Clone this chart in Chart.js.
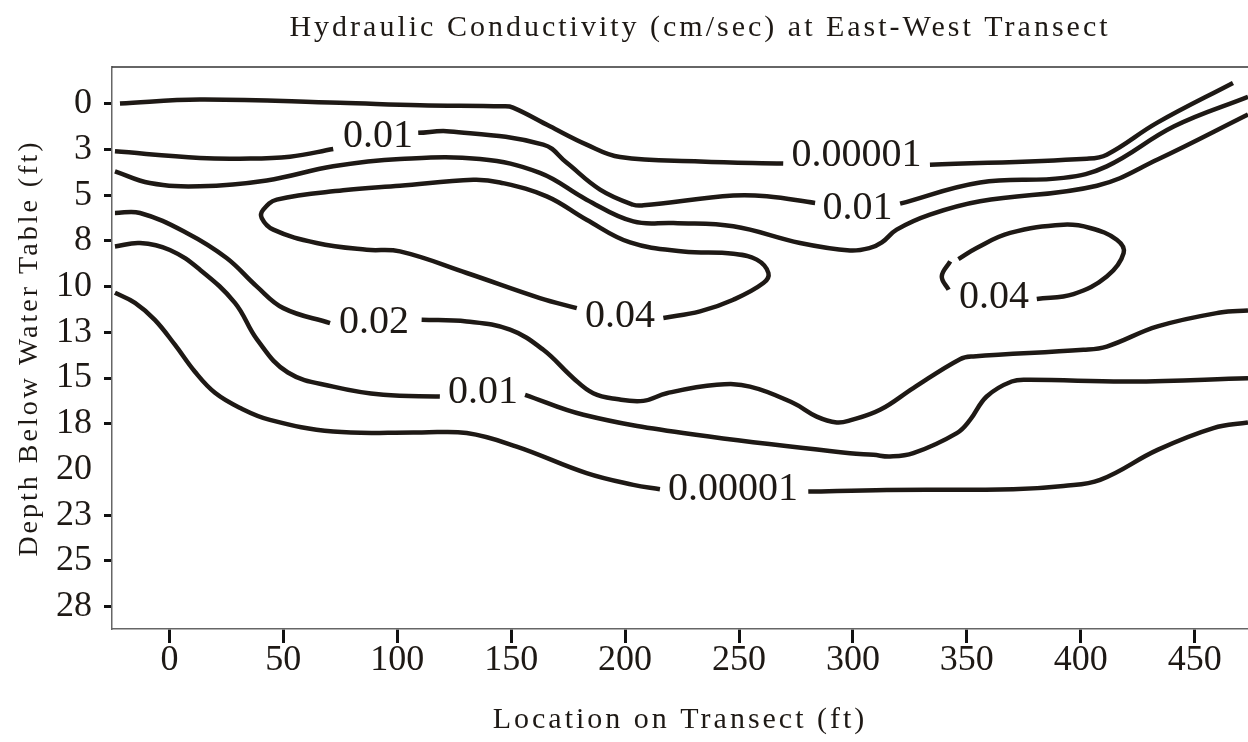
<!DOCTYPE html>
<html>
<head>
<meta charset="utf-8">
<title>Hydraulic Conductivity</title>
<script src="https://cdn.jsdelivr.net/npm/chart.js"></script>
<style>
  html, body { margin: 0; padding: 0; background: #fff; }
  #wrap { width: 1248px; height: 742px; }
</style>
</head>
<body>
<div id="wrap"><canvas id="myChart"></canvas></div>
<script>
// axis ticks
const xTicks = [0, 50, 100, 150, 200, 250, 300, 350, 400, 450];
const yTicks = [0, 2.5, 5, 7.5, 10, 12.5, 15, 17.5, 20, 22.5, 25, 27.5];
const yTickLabels = ['0', '3', '5', '8', '10', '13', '15', '18', '20', '23', '25', '28'];

// contour lines as [location (ft), depth (ft)], broken where a label sits
const upper00001a = [[-21.7,0],[13.4,-0.22],[74.8,-0.04],[110,0.09],[146.5,0.15],[150.8,0.22],[167,1.24],[183.1,2.24],[197.8,2.92],[232.9,3.16],[269.4,3.28]];
const upper00001b = [[333.8,3.34],[402.7,3.01],[411.4,2.79],[433.6,1.04],[466.8,-1.13]];
const upper001a = [[-23.9,2.61],[13.4,2.97],[30.9,3.01],[52.9,2.9],[71.9,2.48]];
const upper001b = [[109.2,1.6],[123.1,1.52],[164.1,2.24],[174.4,3.24],[189,4.7],[203.6,5.53],[208,5.56],[247.5,5.03],[262.2,5.07],[283.4,5.43]];
const upper001c = [[320.7,5.47],[355.8,4.31],[392.4,4.06],[411.4,3.43],[441,1.24],[473.4,-0.37]];
const unlabeled = [[-23.9,3.7],[-8.6,4.34],[13.4,4.52],[42.7,4.2],[71.9,3.43],[101.2,3.03],[136.3,3.03],[162.6,3.79],[183.1,5.25],[203.6,6.44],[221.2,6.53],[247.5,6.71],[276.8,7.62],[298.7,8.03],[307.5,7.89],[312.7,7.59],[319.2,6.89],[333.8,6.07],[355.8,5.34],[407.1,4.49],[433.7,3.06],[473.4,0.6]];
const left004 = [[178.8,11.18],[162.6,10.63],[130.5,9.26],[101.2,8.08],[86.6,7.99],[64.6,7.62],[45.6,6.89],[40.5,6.25],[41.2,5.8],[47.1,5.25],[76.3,4.74],[101.2,4.49],[133.4,4.16],[145.1,4.31],[165.6,5.07],[183.1,6.35],[202.2,7.59],[225.5,8.08],[247.5,8.21],[257.8,8.53],[262.9,9.26],[260.7,9.81],[247.5,10.72],[232.9,11.36],[216.8,11.72]];
const mid002a = [[-23.9,5.98],[-12.9,5.98],[7.6,7.07],[25.1,8.44],[38.3,9.99],[50,11.18],[70.5,12]];
const mid002b = [[110.7,11.82],[130.5,11.91],[149.5,12.36],[164.1,13.46],[177.3,15.01],[186,15.83],[196.3,16.15],[208,16.25],[218.3,15.83],[240.2,15.37],[254.8,15.47],[273.8,16.37],[284.1,17.11],[292.9,17.43],[298.7,17.32],[311.9,16.74],[326.5,15.55],[347,13.97],[352.8,13.82],[401.2,13.46],[411.4,13.28],[433.7,12.18],[461.2,11.42],[473.4,11.31]];
const lower001a = [[-23.9,7.81],[-12.9,7.62],[0.2,8.0],[13.4,9.08],[28.75,10.89],[38.5,12.9],[52,14.7],[71.9,15.47],[93.9,15.92],[118.7,16.01]];
const lower001b = [[156.1,15.92],[181.7,17.01],[225.5,18.01],[298.7,19.11],[309,19.2],[316.3,19.29],[326.5,19.11],[345.6,18.01],[351.4,17.29],[358.7,16.01],[369.7,15.19],[377.7,15.1],[421.7,15.19],[473.4,15.01]];
const lower00001a = [[-23.9,10.34],[-15.1,10.89],[-6.4,11.82],[2.4,13.18],[11.2,14.66],[20,15.81],[30.9,16.63],[44.1,17.29],[71.9,17.93],[110,17.98],[130.5,18.01],[152.4,18.75],[183.1,20.2],[203.6,20.84],[215.3,21.08]];
const lower00001b = [[280.4,21.21],[314.8,21.12],[370.4,21.08],[392.4,20.9],[408.5,20.57],[433.7,18.93],[458.2,17.74],[473.4,17.43]];
const right004a = [[380.7,10.68],[396.8,10.41],[411.4,9.45],[418.8,8.17],[415.8,7.44],[404.1,6.8],[392.4,6.62],[369,7.07],[354.3,7.89],[346.3,8.5]];
const right004b = [[342.7,8.63],[339,9.45],[342,10.18]];

// contour labels
const labelText = ['0.01', '0.00001', '0.01', '0.04', '0.02', '0.01', '0.00001', '0.04'];
const labelX = [91.5, 301.6, 302, 197.8, 89.8, 137.6, 247.4, 361.9];
const labelY = [1.81, 2.82, 5.74, 11.62, 11.95, 15.78, 21.09, 10.59];

const ink = '#1e1915';
const segments = [upper00001a, upper00001b, upper001a, upper001b, upper001c, unlabeled, left004,
  mid002a, mid002b, lower001a, lower001b, lower00001a, lower00001b, right004a, right004b];

const datasets = segments.map(function(seg) {
  return {
    data: seg.map(function(p) { return {x: p[0], y: p[1]}; }),
    showLine: true,
    borderColor: ink,
    borderWidth: 4.5,
    borderCapStyle: 'butt',
    pointRadius: 0,
    tension: 0.4,
    fill: false
  };
});

const serif = 'Liberation Serif';

// titles get wide letter spacing, everything drawn after the datasets does not
const contourText = {
  id: 'contourText',
  afterLayout(chart) {
    // the heading sits right of centre in the original
    if (chart.titleBlock) chart.titleBlock.left = 152;
  },
  beforeDraw(chart) { chart.ctx.letterSpacing = '3px'; },
  beforeDatasetsDraw(chart) { chart.ctx.letterSpacing = '0px'; },
  afterDatasetsDraw(chart) {
    const ctx = chart.ctx, xs = chart.scales.x, ys = chart.scales.y;
    ctx.save();
    ctx.font = '40px "' + serif + '"';
    ctx.fillStyle = ink;
    ctx.textAlign = 'center';
    ctx.textBaseline = 'middle';
    labelText.forEach(function(t, i) {
      ctx.fillText(t, xs.getPixelForValue(labelX[i]), ys.getPixelForValue(labelY[i]));
    });
    ctx.restore();
  },
  afterDraw(chart) {
    const ctx = chart.ctx, a = chart.chartArea;
    ctx.save();
    ctx.strokeStyle = '#333';
    ctx.lineWidth = 1.5;
    ctx.beginPath();
    ctx.moveTo(a.left, a.top);
    ctx.lineTo(a.right, a.top);
    ctx.stroke();
    ctx.restore();
  }
};

new Chart(document.getElementById('myChart'), {
  type: 'scatter',
  data: { datasets: datasets },
  plugins: [contourText],
  options: {
    responsive: true,
    maintainAspectRatio: false,
    animation: false,
    events: [],
    layout: { padding: 0 },
    plugins: {
      legend: { display: false },
      tooltip: { enabled: false },
      title: {
        display: true,
        text: 'Hydraulic Conductivity (cm/sec) at East-West Transect',
        color: ink,
        font: { family: serif, size: 30, weight: 'normal', lineHeight: 1.2 },
        padding: { top: 10, bottom: 21 }
      }
    },
    scales: {
      x: {
        type: 'linear',
        min: -25.2,
        max: 473.4,
        afterFit: function(s) { s.height = 113; },
        afterBuildTicks: function(s) { s.ticks = xTicks.map(function(v) { return {value: v}; }); },
        grid: { drawOnChartArea: false, tickLength: 14, tickWidth: 3, tickColor: '#111' },
        border: { color: '#666', width: 1.5 },
        ticks: {
          z: 1,
          padding: 0,
          maxRotation: 0,
          color: ink,
          font: { family: serif, size: 36, lineHeight: 0.95 },
          callback: function(v) { return String(v); }
        },
        title: {
          display: true,
          text: 'Location on Transect (ft)',
          color: ink,
          font: { family: serif, size: 30, lineHeight: 1.2 },
          padding: { top: 0, bottom: 4 }
        }
      },
      y: {
        type: 'linear',
        reverse: true,
        min: -2,
        max: 28.72,
        afterFit: function(s) { s.width = 112; },
        afterBuildTicks: function(s) { s.ticks = yTicks.map(function(v) { return {value: v}; }); },
        grid: {
          drawOnChartArea: false,
          tickLength: 8,
          tickWidth: 3,
          tickColor: function(c) { return c.tick && c.tick.value === 20 ? 'rgba(0,0,0,0)' : '#111'; }
        },
        border: { color: '#666', width: 1.5 },
        ticks: {
          z: 1,
          padding: 12,
          color: ink,
          font: { family: serif, size: 36, lineHeight: 1 },
          callback: function(v, i) { return yTickLabels[i]; }
        },
        title: {
          display: true,
          text: 'Depth Below Water Table (ft)',
          color: ink,
          font: { family: serif, size: 28, lineHeight: 1.2 },
          padding: { top: 13, bottom: 0 }
        }
      }
    }
  }
});
</script>
</body>
</html>
